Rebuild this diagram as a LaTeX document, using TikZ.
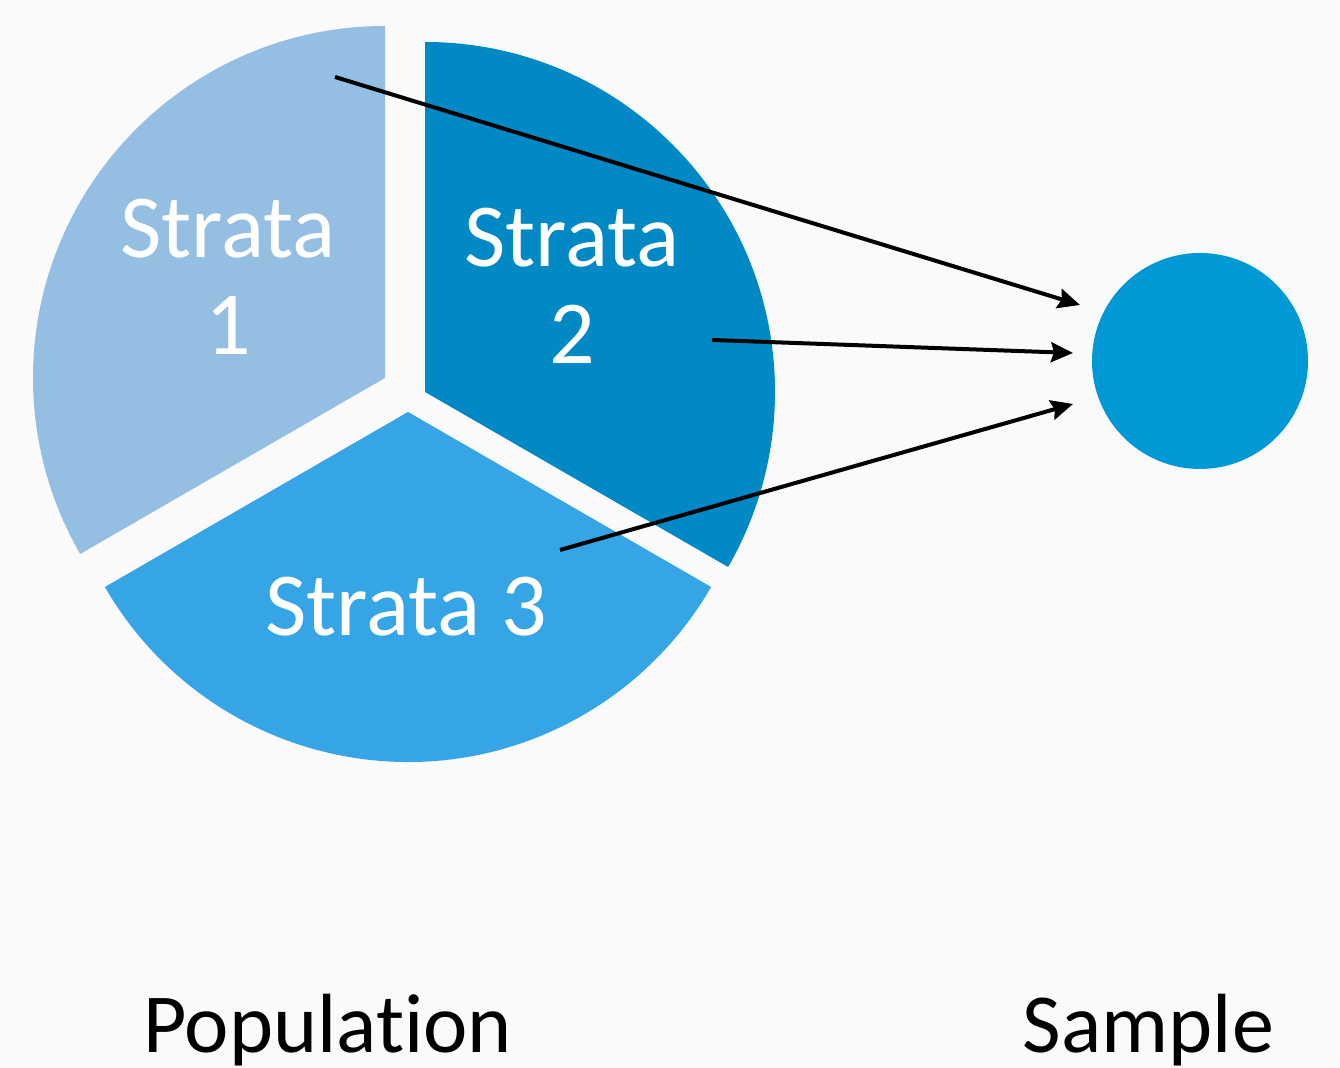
\documentclass[tikz,border=0pt]{standalone}
\usepackage{fontspec}
\setmainfont{Carlito}[Ligatures=NoCommon]
\usetikzlibrary{arrows.meta}
\definecolor{bgcol}{RGB}{250,250,250}
\definecolor{stratumA}{RGB}{149,191,226}
\definecolor{stratumB}{RGB}{0,137,196}
\definecolor{stratumC}{RGB}{53,165,229}
\definecolor{samplecol}{RGB}{0,153,213}
\tikzset{
  slicelabel/.style={text=white, font=\fontsize{45}{48.5}\selectfont,
    inner sep=0pt, anchor=base},
  twoline/.style={slicelabel, align=center, text width=130pt},
  caption/.style={text=black, font=\fontsize{42}{50}\selectfont,
    inner sep=0pt, anchor=base},
  pick/.style={line width=2pt, black,
    -{Stealth[length=11pt, width=10pt, inset=1.5pt]}},
}
\begin{document}
\begin{tikzpicture}[x=0.5pt, y=0.5pt]
  \fill[bgcol] (0,0) rectangle (1340,1068);
  \useasboundingbox (0,0) rectangle (1340,1068);

  % exploded pie: three equal slices
  \fill[stratumA] (385,690) -- ++(90:176pt)
    arc[start angle=90, end angle=210, radius=176pt] -- cycle;
  \fill[stratumB] (425,676) -- ++(90:175pt)
    arc[start angle=90, end angle=-30, radius=175pt] -- cycle;
  \fill[stratumC] (408,656) -- ++(210:175pt)
    arc[start angle=210, end angle=330, radius=175pt] -- cycle;

  \node[twoline] (s1) at (228,810) {Strata\\1};
  \node[twoline] (s2) at (572,801) {Strata\\2};
  \node[slicelabel] (s3) at (406,432) {Strata 3};

  % the sample
  \node[circle, fill=samplecol, minimum size=108pt, inner sep=0pt] (sample) at (1200,707) {};

  % draws from each stratum
  \coordinate (f1) at (335,991);
  \coordinate (t1) at (1080,763);
  \coordinate (f2) at (712,728);
  \coordinate (t2) at (1073,715);
  \coordinate (f3) at (560,518);
  \coordinate (t3) at (1073,664);
  \draw[pick] (f1) -- (t1);
  \draw[pick] (f2) -- (t2);
  \draw[pick] (f3) -- (t3);

  \node[caption] (pop) at (327.5,15) {Population};
  \node[caption] (smp) at (1148.5,15) {Sample};
\end{tikzpicture}
\end{document}
